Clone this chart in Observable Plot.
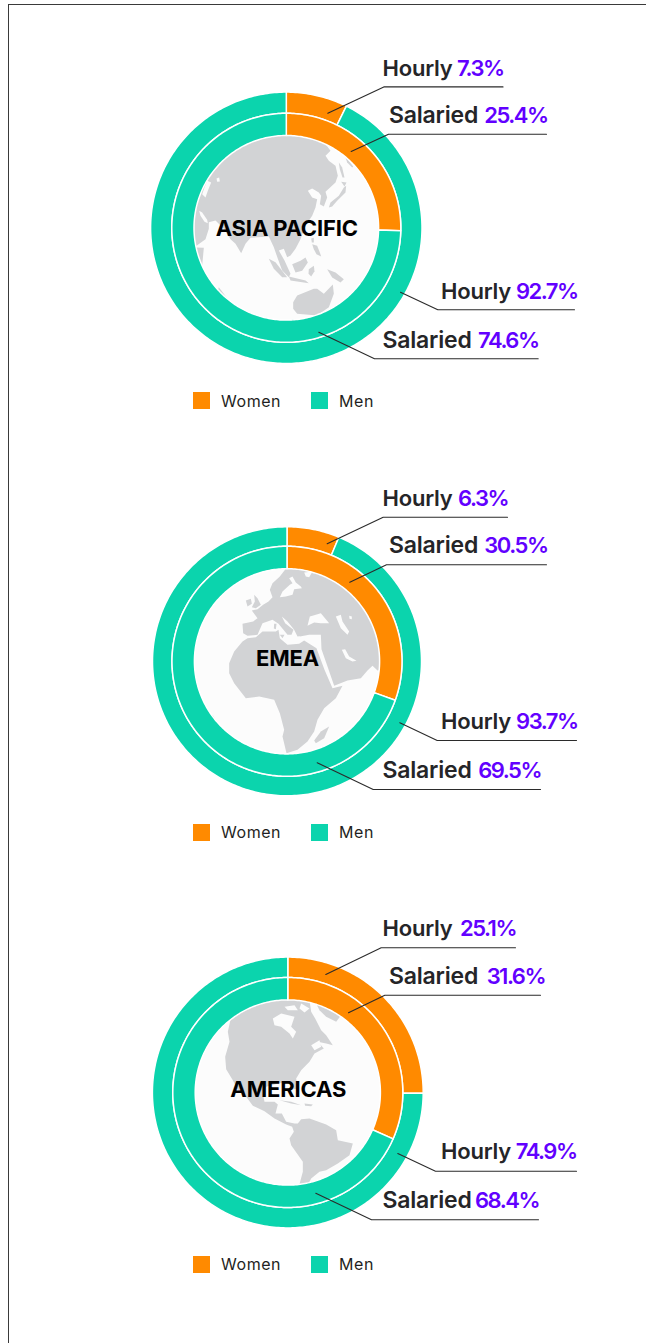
<!DOCTYPE html>
<html>
<head>
<meta charset="utf-8">
<script src="https://cdn.jsdelivr.net/npm/d3@7"></script>
<script src="https://cdn.jsdelivr.net/npm/@observablehq/plot@0.6"></script>
<style>
html,body{margin:0;padding:0;background:#fff;overflow:hidden}
#page{position:relative;width:646px;height:1343px;overflow:hidden;font-family:Inter,sans-serif}
#frame{position:absolute;left:8px;top:4px;width:700px;height:1400px;border:1px solid #3a3a3a;box-sizing:border-box}
#page svg{position:absolute;left:0}
#page svg g[fill="#6200ff"] text{letter-spacing:-1.5px}
#page svg g[fill="#252528"] text{letter-spacing:-.2px}
#page svg g[fill="#000"] text,#page svg g[fill="#000000"] text{letter-spacing:-.15px}
.legend{position:absolute;left:193px;height:18px;display:flex;align-items:center;font-size:16px;color:#1f1f22;letter-spacing:.55px}
.legend i{display:block;width:17px;height:17px;margin-right:11px}
.legend span{display:block}
</style>
</head>
<body>
<div id="page"><div id="frame"></div></div>
<script>
// ---- data ----
const regions = ["ASIA PACIFIC", "EMEA", "AMERICAS"];
const groups = ["Women", "Men"];
const hourlyWomen = [7.3, 6.3, 25.1];
const hourlyMen = [92.7, 93.7, 74.9];
const salariedWomen = [25.4, 30.5, 31.6];
const salariedMen = [74.6, 69.5, 68.4];

// ---- styles ----
const colors = {Women: "#ff8a00", Men: "#0bd4ad"};
const landColor = "#d2d3d5", seaColor = "#fcfcfc", ink = "#252528", accent = "#6200ff";

// ---- layout of each panel (pixels of the page) ----
const layout = [
  {cx: 286.3, cy: 227.8, top: 0, h: 430, legend: 400.5, outer: 135, mid: 114.5, inner: 93, titleY: 228.5,
   callouts: [
    {k:"Hourly", s:0, pts:[[327.3,112.7],[383.3,86.4],[502.5,86.4]], tx:382, ty:75.5, ex:503},
    {k:"Salaried", s:0, pts:[[350.7,151],[388,133.7],[546,133.7]], tx:388.5, ty:122, ex:547},
    {k:"Hourly", s:1, pts:[[400,291.7],[437.3,309.3],[574,309.3]], tx:440.5, ty:298, ex:577},
    {k:"Salaried", s:1, pts:[[318.3,331.7],[374,358.3],[537.7,358.3]], tx:382, ty:347, ex:538}]},
  {cx: 287, cy: 661.3, top: 430, h: 432, legend: 832, outer: 133.8, mid: 115, inner: 93.3, titleY: 658.5,
   callouts: [
    {k:"Hourly", s:0, pts:[[326.7,543.3],[382.7,516.7],[507,516.7]], tx:382, ty:505.5, ex:507.5},
    {k:"Salaried", s:0, pts:[[349.3,581.7],[386,564.3],[546,564.3]], tx:388.5, ty:552.5, ex:547},
    {k:"Hourly", s:1, pts:[[399.3,722.3],[436.7,740],[576,740]], tx:440.5, ty:728.5, ex:577},
    {k:"Salaried", s:1, pts:[[316.7,762.3],[372.7,789],[540,789]], tx:382, ty:777.5, ex:540.5}]},
  {cx: 287.8, cy: 1092.5, top: 862, h: 481, legend: 1264, outer: 134.7, mid: 115, inner: 93.3, titleY: 1089.5,
   callouts: [
    {k:"Hourly", s:0, pts:[[325.3,974],[380.7,947.3],[515,947.3]], tx:382, ty:935.5, ex:515.5},
    {k:"Salaried", s:0, pts:[[348,1012.3],[384.3,994.7],[540,994.7]], tx:388.5, ty:983.5, ex:544.5},
    {k:"Hourly", s:1, pts:[[397.3,1153],[435,1170.7],[576,1170.7]], tx:440.5, ty:1158.5, ex:576},
    {k:"Salaried", s:1, pts:[[315.3,1192.7],[371,1219.3],[538,1219.3]], tx:382, ty:1207.5, ex:538.5}]}
];

// ---- continents; coordinates are in a crop space, pairs x,y (3 units = 1 px) ----
const asiaLand = [
 [570,211,540,170,439,140,340,160,250,220,180,320,145,420,150,496,168,496,195,476,205,445,205,425,225,420,250,445,270,476,285,490,302,518,315,490,330,472,385,468,400,500,412,535,425,570,445,590,450,580,432,540,415,510,430,505,440,530,450,525,465,505,480,476,495,436,515,406,525,381,530,356,515,351,502,331,515,324,535,336,542,346,538,371,550,378,560,351,555,334,585,306,592,286,585,256,565,241,555,226],
 [565,381,570,366,595,346,610,321,617,316,615,336,590,361,575,378],
 [602,304,618,306,612,318],
 [595,246,605,261,612,291,606,291,598,266],
 [615,231,625,241,638,258,635,261,620,246],
 [512,474,520,472,520,486,514,486],
 [515,491,530,496,538,516,542,528,528,521,520,506],
 [455,551,480,541,495,531,502,546,485,571,465,576],
 [385,535,405,545,440,590,425,590,400,565],
 [445,588,495,600,505,608,450,600],
 [505,566,520,556,522,572,512,588,504,580],
 [560,566,585,576,610,596,600,606,575,591],
 [458,665,470,645,520,625,530,625,550,640,577,612,580,640,565,680,530,705,470,700,458,685],
 [235,620,265,660,255,660,232,630],
 [140,500,190,502,185,556,195,595,140,560]
];
const asiaSea = [
 [200,301,212,306,202,331,195,351,185,341,192,321],
 [228,294,236,291,238,303,230,304],
 [176,391,185,396,200,418,202,428,192,424,180,406]
];
const emeaLand = [
 [152,200,150,172,182,165,195,155,178,132,195,128,212,115,228,105,240,92,232,70,240,50,262,30,285,0,320,-15,430,20,520,100,580,200,600,305,555,312,540,298,525,312,505,335,465,342,425,358,405,300,387,248,385,205,350,205,322,210,322,190,345,182,330,208,315,210,305,190,285,165,268,150,278,170,303,190,297,205,285,205,258,172,240,160,210,170,195,205,165,208],
 [150,225,125,255,110,290,110,320,125,350,160,395,200,390,245,400,262,440,275,490,270,510,282,560,315,550,345,525,365,495,375,460,395,425,430,395,450,358,420,365,396,310,372,245,335,222,320,232,285,235,262,215,258,190,250,195,210,195,190,212,165,215],
 [185,85,195,95,205,115,190,125,178,122,187,105],
 [160,102,175,97,178,112,165,120],
 [410,480,395,515,370,530,365,522,385,495],
 [262,205,276,205,270,215],
 [245,172,252,172,250,188,244,186],
 [575,300,560,325,555,350,540,398,575,400],
 [48,440,62,448,75,470,60,480,40,460]
];
const emeaSea = [
 [262,92,270,75,292,55,300,50,290,35,300,30,310,48,325,60,328,65,305,68,300,85,280,90],
 [335,18,360,15,350,32,340,30],
 [345,178,352,150,370,145,385,140,410,170,385,170,365,168],
 [430,150,445,145,450,165,470,195,465,205,445,185],
 [470,148,478,150,478,158,471,157],
 [448,250,458,248,470,270,492,283,480,285,460,275]
];
const americasLand = [
 [110,55,170,20,281,-10,345,5,350,40,362,60,380,95,395,110,415,140,395,135,370,130,388,150,360,165,345,190,320,215,305,240,310,270,298,272,290,250,250,255,215,265,205,285,210,310,240,310,250,318,243,345,262,345,275,370,300,375,310,375,320,362,345,360,395,378,425,395,430,425,475,435,465,470,430,495,395,515,375,520,350,540,335,570,310,575,325,520,325,490,290,440,285,420,298,400,293,385,275,378,240,360,210,338,175,322,155,295,130,275,115,245,95,212,92,175,105,130,100,100],
 [360,5,400,10,440,50,425,70,395,55,375,35],
 [255,305,290,310,320,320,290,315],
 [330,315,355,318,350,323,332,322]
];
const americasSea = [
 [235,60,260,45,300,55,290,85,305,100,295,120,285,105,260,85,240,80],
 [270,25,300,20,310,35,280,35],
 [320,15,345,30,330,42,315,30],
 [350,140,375,125,380,145,360,155]
];
const crops = [
 {land: asiaLand, sea: asiaSea, x0: 140, y0: 80},
 {land: emeaLand, sea: emeaSea, x0: 192, y0: 566},
 {land: americasLand, sea: americasSea, x0: 194, y0: 998}
];

function traced(list, c) {
  const rows = [];
  list.forEach((p, id) => {
    for (let i = 0; i < p.length; i += 2) rows.push({id, x: c.x0 + p[i] / 3, y: c.y0 + p[i + 1] / 3});
  });
  return rows;
}

function ringRows(share, group, ring, r0, r1, L) {
  // share is Women's share: the Women slice runs clockwise from 12 o'clock, Men's takes the rest
  const rows = [];
  const [a0, a1] = group === "Women" ? [0, share * 3.6] : [share * 3.6, 360];
  const n = Math.ceil(a1 - a0) + 1;
  for (let i = 0; i <= n; i++) {
    const a = (a0 + (a1 - a0) * i / n) * Math.PI / 180;
    rows.push({
      key: ring + group, group,
      x1: L.cx + r0 * Math.sin(a), y1: L.cy - r0 * Math.cos(a),
      x2: L.cx + r1 * Math.sin(a), y2: L.cy - r1 * Math.cos(a)
    });
  }
  return rows;
}

const page = document.getElementById("page");
regions.forEach((name, i) => {
  const L = layout[i], c = crops[i];
  const hW = hourlyWomen[i], hM = hourlyMen[i], sW = salariedWomen[i], sM = salariedMen[i];
  const rings = [
    ...ringRows(hW, "Women", "h", L.mid, L.outer + 0.7, L),
    ...ringRows(hW, "Men", "h", L.mid, L.outer + 0.7, L),
    ...ringRows(sW, "Women", "s", L.inner - 0.7, L.mid, L),
    ...ringRows(sW, "Men", "s", L.inner - 0.7, L.mid, L)
  ];
  const leaders = L.callouts.flatMap((q, id) => q.pts.map(([x, y]) => ({id, x, y})));
  const labels = L.callouts.map(q => ({
    x: q.tx, ex: q.ex, y: q.ty, label: q.k,
    value: (q.k === "Hourly" ? (q.s ? hM : hW) : (q.s ? sM : sW)).toFixed(1) + "%"
  }));
  const svg = Plot.plot({
    width: 646, height: L.h,
    marginTop: 0, marginBottom: 0, marginLeft: 0, marginRight: 0,
    x: {domain: [0, 646], range: [0, 646], axis: null},
    y: {domain: [L.top, L.top + L.h], range: [0, L.h], axis: null},
    style: {background: "transparent", overflow: "visible"},
    marks: [
      Plot.dot([L], {x: "cx", y: "cy", r: L.inner + 2, fill: seaColor, stroke: "none"}),
      Plot.line(traced(c.land, c), {x: "x", y: "y", z: "id", fill: landColor, stroke: "none", curve: "linear-closed"}),
      Plot.line(traced(c.sea, c), {x: "x", y: "y", z: "id", fill: seaColor, stroke: "none", curve: "linear-closed"}),
      Plot.area(rings, {x1: "x1", y1: "y1", x2: "x2", y2: "y2", z: "key", fill: d => colors[d.group], stroke: "#fff", strokeWidth: 1.5, curve: "linear"}),
      Plot.line(leaders, {x: "x", y: "y", z: "id", stroke: "#2b2b2b", strokeWidth: 1.1, fill: "none"}),
      Plot.text(labels.filter(d => d.label === "Hourly"), {x: "x", y: "y", text: "label", textAnchor: "start", lineAnchor: "bottom", fill: ink, fontSize: 22, fontWeight: 600, fontFamily: "Inter"}),
      Plot.text(labels.filter(d => d.label === "Salaried"), {x: "x", y: "y", text: "label", textAnchor: "start", lineAnchor: "bottom", fill: ink, fontSize: 23, fontWeight: 600, fontFamily: "Inter"}),
      Plot.text(labels, {x: "ex", y: "y", text: "value", textAnchor: "end", lineAnchor: "bottom", fill: accent, fontSize: 22, fontWeight: 600, fontFamily: "Inter"}),
      Plot.text([L], {x: "cx", y: "titleY", text: () => name, fill: "#000", fontSize: 22, fontWeight: 700, fontFamily: "Inter"})
    ]
  });
  svg.style.top = L.top + "px";
  page.appendChild(svg);

  const leg = document.createElement("div");
  leg.className = "legend";
  leg.style.top = (L.legend - 9) + "px";
  leg.innerHTML = groups.map((g, j) =>
    `<i style="background:${colors[g]}"></i><span style="${j === 0 ? "width:90px" : ""}">${g}</span>`).join("");
  page.appendChild(leg);
});
</script>
</body>
</html>
